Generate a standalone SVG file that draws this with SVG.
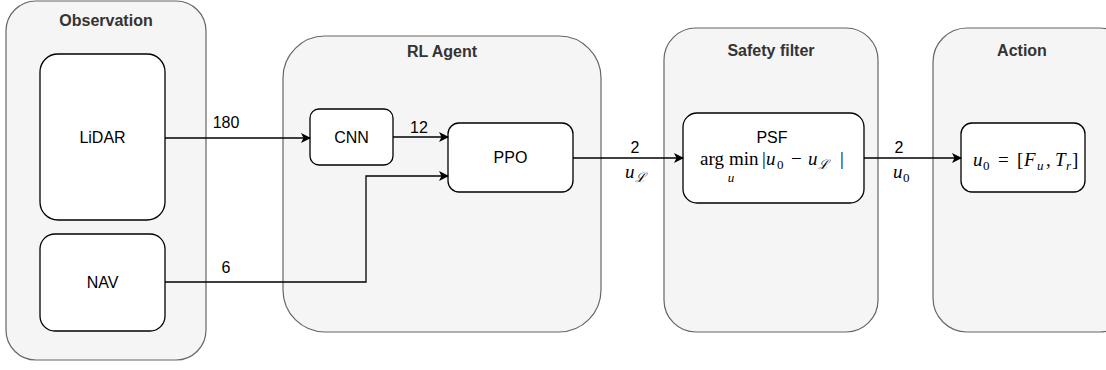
<svg xmlns="http://www.w3.org/2000/svg" width="1106" height="370" viewBox="0 0 1106 370">
  <style>
    .group { fill: #f5f5f5; stroke: #666666; stroke-width: 1.2; }
    .box { fill: #ffffff; stroke: #000000; stroke-width: 1.3; }
    .title { font-family: "Liberation Sans", Arial, sans-serif; font-size: 16px; font-weight: bold; fill: #333333; text-anchor: middle; }
    .label { font-family: "Liberation Sans", Arial, sans-serif; font-size: 16px; fill: #000000; text-anchor: middle; }
    .math { font-family: "Liberation Serif", "DejaVu Serif", serif; font-size: 19px; fill: #000000; }
    .sub { font-family: "Liberation Serif", "DejaVu Serif", serif; font-size: 13px; fill: #000000; }
    .mi { font-style: italic; }
    .edge { fill: none; stroke: #000000; stroke-width: 1.3; }
  </style>
  <defs>
    <marker id="arrow" viewBox="0 0 10 10" refX="9" refY="5" markerWidth="10" markerHeight="10" markerUnits="userSpaceOnUse" orient="auto">
      <path d="M0,0 L10,5 L0,10 L2.5,5 Z" fill="#000000"/>
    </marker>
  </defs>

  <!-- Containers -->
  <g id="observation">
    <rect class="group" x="6" y="1" width="200" height="359" rx="30" ry="30"/>
    <text class="title" x="106" y="26">Observation</text>
  </g>
  <g id="rl-agent">
    <rect class="group" x="283" y="36" width="318" height="296" rx="42" ry="42"/>
    <text class="title" x="442" y="57">RL Agent</text>
  </g>
  <g id="safety-filter">
    <rect class="group" x="664" y="28" width="214" height="304" rx="32" ry="32"/>
    <text class="title" x="771" y="56">Safety filter</text>
  </g>
  <g id="action">
    <rect class="group" x="933" y="28" width="200" height="304" rx="34" ry="34"/>
    <text class="title" x="1022" y="56">Action</text>
  </g>

  <!-- Inner nodes -->
  <g id="lidar">
    <rect class="box" x="40" y="54" width="125" height="166" rx="18" ry="18"/>
    <text class="label" x="102.5" y="143">LiDAR</text>
  </g>
  <g id="nav">
    <rect class="box" x="40" y="234" width="125" height="97" rx="15" ry="15"/>
    <text class="label" x="102.5" y="288">NAV</text>
  </g>
  <g id="cnn">
    <rect class="box" x="310" y="109" width="83" height="56" rx="9" ry="9"/>
    <text class="label" x="351.5" y="143">CNN</text>
  </g>
  <g id="ppo">
    <rect class="box" x="448" y="123" width="125" height="69" rx="11" ry="11"/>
    <text class="label" x="510.5" y="163">PPO</text>
  </g>
  <g id="psf">
    <rect class="box" x="683" y="113" width="181" height="90" rx="14" ry="14"/>
    <text class="label" x="772" y="143">PSF</text>
    <!-- arg min over u of |u0 - uL| -->
    <text class="math" x="700" y="165">arg</text>
    <text class="math" x="729" y="165">min</text>
    <text class="sub mi" x="731" y="182" text-anchor="middle">u</text>
    <text class="math" x="762" y="165">|</text>
    <text class="math mi" x="766" y="165">u</text>
    <text class="sub" x="777" y="169">0</text>
    <text class="math" x="791" y="165">−</text>
    <text class="math mi" x="808" y="165">u</text>
    <text class="sub mi" x="818" y="169">ℒ</text>
    <text class="math" x="840" y="165">|</text>
  </g>
  <g id="action-out">
    <rect class="box" x="961" y="123" width="124" height="69" rx="11" ry="11"/>
    <!-- u0 = [Fu, Tr] -->
    <text class="math mi" x="973" y="166">u</text>
    <text class="sub" x="983" y="170">0</text>
    <text class="math" x="998" y="166">=</text>
    <text class="math" x="1017" y="166">[</text>
    <text class="math mi" x="1024" y="166">F</text>
    <text class="sub mi" x="1037" y="170">u</text>
    <text class="math" x="1046" y="166">,</text>
    <text class="math mi" x="1055" y="166">T</text>
    <text class="sub mi" x="1066" y="170">r</text>
    <text class="math" x="1072" y="166">]</text>
  </g>

  <!-- Connectors -->
  <g id="connectors">
    <path class="edge" d="M165,138 L310,138" marker-end="url(#arrow)"/>
    <path class="edge" d="M393,137 L448,137" marker-end="url(#arrow)"/>
    <path class="edge" d="M165,282 L366,282 L366,176 L448,176" marker-end="url(#arrow)"/>
    <path class="edge" d="M573,158 L683,158" marker-end="url(#arrow)"/>
    <path class="edge" d="M864,158 L961,158" marker-end="url(#arrow)"/>
    <text class="label" x="226" y="128">180</text>
    <text class="label" x="226" y="273">6</text>
    <text class="label" x="419" y="133">12</text>
    <text class="label" x="635" y="153">2</text>
    <text class="math mi" x="625" y="178">u</text>
    <text class="sub mi" x="635" y="182">ℒ</text>
    <text class="label" x="899" y="153">2</text>
    <text class="math mi" x="893" y="178">u</text>
    <text class="sub" x="903" y="182">0</text>
  </g>
</svg>
